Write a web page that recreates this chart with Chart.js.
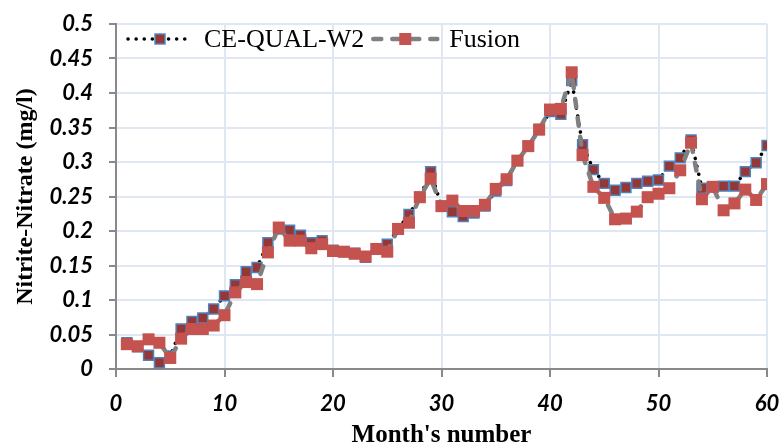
<!DOCTYPE html>
<html>
<head>
<meta charset="utf-8">
<script src="https://cdn.jsdelivr.net/npm/chart.js@4.4.1/dist/chart.umd.min.js"></script>
<style>
  html, body { margin: 0; padding: 0; background: #fff; }
  #wrap { width: 782px; height: 448px; }
</style>
</head>
<body>
<div id="wrap"><canvas id="myChart"></canvas></div>
<script>
const months = [
  1, 2, 3, 4, 5, 6, 7, 8, 9, 10, 11, 12, 13, 14, 15, 16, 17, 18, 19, 20,
  21, 22, 23, 24, 25, 26, 27, 28, 29, 30, 31, 32, 33, 34, 35, 36, 37, 38, 39, 40,
  41, 42, 43, 44, 45, 46, 47, 48, 49, 50, 51, 52, 53, 54, 55, 56, 57, 58, 59, 60,
];

const ceQual = [
  0.038, 0.032, 0.020, 0.009, 0.019, 0.058, 0.069, 0.074, 0.087, 0.106,
  0.122, 0.141, 0.147, 0.183, 0.203, 0.201, 0.194, 0.183, 0.186, 0.172,
  0.170, 0.168, 0.162, 0.174, 0.181, 0.203, 0.224, 0.249, 0.286, 0.236,
  0.228, 0.221, 0.226, 0.236, 0.258, 0.273, 0.302, 0.323, 0.347, 0.373,
  0.369, 0.418, 0.325, 0.289, 0.269, 0.259, 0.263, 0.269, 0.272, 0.274,
  0.294, 0.306, 0.332, 0.262, 0.264, 0.265, 0.265, 0.286, 0.299, 0.324,
];

const fusion = [
  0.036, 0.033, 0.043, 0.038, 0.016, 0.044, 0.058, 0.058, 0.063, 0.078,
  0.111, 0.126, 0.123, 0.169, 0.205, 0.186, 0.186, 0.175, 0.181, 0.171,
  0.170, 0.167, 0.163, 0.174, 0.170, 0.203, 0.212, 0.249, 0.276, 0.236,
  0.244, 0.229, 0.229, 0.238, 0.261, 0.275, 0.302, 0.323, 0.347, 0.376,
  0.377, 0.430, 0.310, 0.264, 0.248, 0.217, 0.218, 0.228, 0.249, 0.254,
  0.262, 0.288, 0.328, 0.246, 0.264, 0.230, 0.240, 0.260, 0.245, 0.268,
];

const xTicks = [0, 10, 20, 30, 40, 50, 60];
const yTicks = [0, 0.05, 0.1, 0.15, 0.2, 0.25, 0.3, 0.35, 0.4, 0.45, 0.5];

const gridColor = "#dfe7f2";
const axisColor = "#898989";
const tickFont = { family: "Lato, 'Liberation Sans', sans-serif", size: 22, weight: "bold", style: "italic" };
const titleFont = { family: "'Liberation Serif', 'Times New Roman', serif", size: 24, weight: "bold" };

// legend with line sample + marker, drawn inside the plot like the original
const lineLegend = {
  id: "lineLegend",
  afterDraw(chart) {
    const ctx = chart.ctx;
    const area = chart.chartArea;
    const y = area.top + 15;
    let x = area.left + 12;
    ctx.save();
    ctx.font = "26px 'Liberation Serif', 'Times New Roman', serif";
    ctx.textBaseline = "middle";
    chart.data.datasets.forEach((ds) => {
      const len = 64;
      ctx.beginPath();
      ctx.setLineDash(ds.borderDash);
      ctx.lineCap = "round";
      ctx.lineWidth = ds.borderWidth;
      ctx.strokeStyle = ds.borderColor;
      ctx.moveTo(x, y);
      ctx.lineTo(x + len, y);
      ctx.stroke();
      ctx.setLineDash([]);
      const side = ds.pointRadius * Math.SQRT2;
      const mx = x + len / 2;
      ctx.fillStyle = ds.pointBackgroundColor;
      ctx.fillRect(mx - side / 2, y - side / 2, side, side);
      if (ds.pointBorderWidth) {
        ctx.lineWidth = ds.pointBorderWidth;
        ctx.strokeStyle = ds.pointBorderColor;
        ctx.strokeRect(mx - side / 2, y - side / 2, side, side);
      }
      ctx.fillStyle = "#000";
      ctx.fillText(ds.label, x + len + 12, y + 1);
      x += len + 12 + ctx.measureText(ds.label).width + 9;
    });
    ctx.restore();
  },
};

const data = {
  datasets: [
    {
      label: "CE-QUAL-W2",
      data: months.map((m, i) => ({ x: m, y: ceQual[i] })),
      borderColor: "#000000",
      borderWidth: 3.5,
      borderDash: [0.1, 8],
      borderCapStyle: "round",
      pointStyle: "rect",
      pointRadius: 7,
      pointBackgroundColor: "#953735",
      pointBorderColor: "#4f81bd",
      pointBorderWidth: 1.5,
      tension: 0,
      order: 1,
    },
    {
      label: "Fusion",
      data: months.map((m, i) => ({ x: m, y: fusion[i] })),
      borderColor: "#808080",
      borderWidth: 4.5,
      borderDash: [8, 11],
      borderCapStyle: "round",
      pointStyle: "rect",
      pointRadius: 8.5,
      pointBackgroundColor: "#c4524f",
      pointBorderColor: "#c4524f",
      pointBorderWidth: 0,
      tension: 0,
      order: 0,
    },
  ],
};

const config = {
  type: "line",
  data: data,
  plugins: [lineLegend],
  options: {
    responsive: true,
    maintainAspectRatio: false,
    animation: false,
    layout: { padding: { top: 24, right: 15, bottom: 0, left: 0 } },
    plugins: {
      legend: { display: false },
      tooltip: { enabled: false },
    },
    scales: {
      x: {
        type: "linear",
        min: 0,
        max: 60,
        afterBuildTicks: (scale) => {
          scale.ticks = xTicks.map((v) => ({ value: v }));
        },
        afterFit: (scale) => {
          scale.height = 79;
          scale.paddingLeft = 0;
          scale.paddingRight = 0;
        },
        grid: { color: gridColor, lineWidth: 2, tickColor: axisColor, tickWidth: 2, tickLength: 8 },
        border: { color: axisColor, width: 2 },
        ticks: { color: "#000", font: tickFont, padding: 14, maxRotation: 0 },
        title: {
          display: true,
          text: "Month's number",
          color: "#000",
          font: { ...titleFont, size: 25, lineHeight: 1 },
          padding: { top: 0, bottom: 0 },
        },
      },
      y: {
        min: 0,
        max: 0.5,
        afterBuildTicks: (scale) => {
          scale.ticks = yTicks.map((v) => ({ value: v }));
        },
        afterFit: (scale) => {
          scale.width = 116;
          scale.paddingTop = 0;
          scale.paddingBottom = 0;
        },
        grid: { color: gridColor, lineWidth: 2, tickColor: axisColor, tickWidth: 2, tickLength: 7 },
        border: { color: axisColor, width: 2 },
        ticks: {
          color: "#000",
          font: tickFont,
          padding: 16,
          callback: (value) => String(Number(value.toFixed(2))),
        },
        title: {
          display: true,
          text: "Nitrite-Nitrate (mg/l)",
          color: "#000",
          font: { ...titleFont, lineHeight: 1 },
          padding: { top: 14, bottom: 0 },
        },
      },
    },
  },
};

const ctx = document.querySelector("#myChart").getContext("2d");
const myChart = new Chart(ctx, config);
</script>
</body>
</html>
